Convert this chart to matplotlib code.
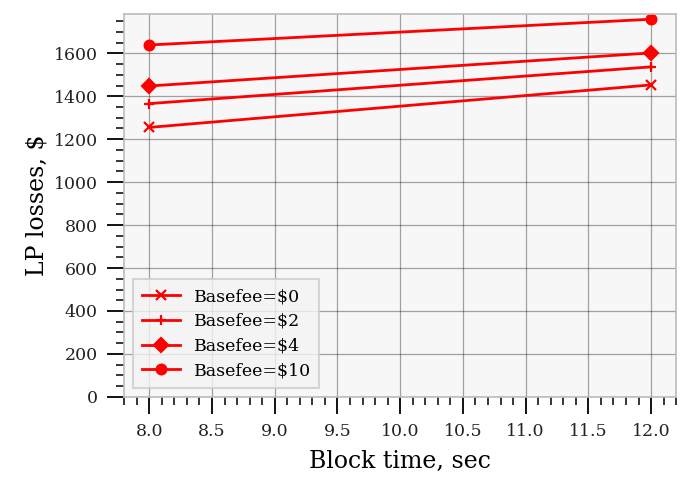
import matplotlib
matplotlib.use("Agg")
import matplotlib.pyplot as plt
from matplotlib.ticker import AutoMinorLocator

block_time = [8.0, 12.0]
loss_fee0 = [1255, 1453]
loss_fee2 = [1366, 1537]
loss_fee4 = [1448, 1602]
loss_fee10 = [1639, 1759]

series = [
    ("Basefee=$0", loss_fee0, "x"),
    ("Basefee=$2", loss_fee2, "+"),
    ("Basefee=$4", loss_fee4, "D"),
    ("Basefee=$10", loss_fee10, "o"),
]

plt.rcParams.update({
    "font.family": "DejaVu Serif",
    "mathtext.fontset": "dejavuserif",
})

fig = plt.figure(figsize=(6.9, 4.93), dpi=100)
ax = fig.add_axes([0.18, 0.195, 0.80, 0.777])
ax.set_facecolor("#f7f7f7")

for label, vals, marker in series:
    ax.plot(block_time, vals, color="red", linewidth=2.0, marker=marker,
            markersize=7, markeredgewidth=1.6, label=label.replace("$", r"\$"))

ax.set_ylim(bottom=0)
ax.xaxis.set_minor_locator(AutoMinorLocator(5))
ax.yaxis.set_minor_locator(AutoMinorLocator(4))
ax.tick_params(which="major", direction="out", length=12, width=1.3, pad=7,
               labelsize=12.5, colors="black", labelcolor="#222222")
ax.tick_params(which="minor", direction="out", length=6, width=1.1)
ax.grid(True, which="major", color="black", alpha=0.35, linewidth=0.9)
ax.set_axisbelow(True)
for s in ax.spines.values():
    s.set_color("#bbbbbb")
    s.set_linewidth(1.2)

ax.set_xlabel("Block time, sec", fontsize=17, labelpad=7)
ax.set_ylabel("LP losses, \\$", fontsize=17, labelpad=4)

leg = ax.legend(loc="lower left", fontsize=12.5, frameon=True, fancybox=False,
                handlelength=2.2, borderpad=0.5, labelspacing=0.45)
leg.get_frame().set_edgecolor("#cccccc")
leg.get_frame().set_facecolor("#f4f4f4")
leg.get_frame().set_linewidth(1.5)

fig.savefig("out.png", dpi=100)
